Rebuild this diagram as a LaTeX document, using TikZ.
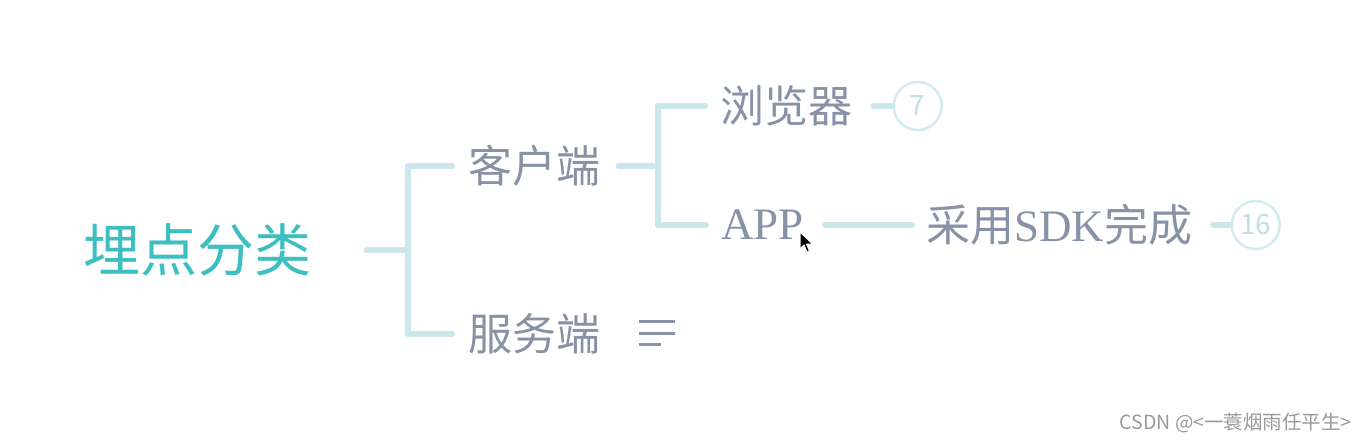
\documentclass[tikz,border=0pt]{standalone}
\usepackage{fontspec}
\newfontfamily\cjkfont{Noto Sans CJK SC}
\newfontfamily\lserif{Liberation Serif}
\definecolor{rootc}{HTML}{3DBFC2}
\definecolor{textc}{HTML}{8892A6}
\definecolor{linec}{HTML}{CBE7EB}
\definecolor{circc}{HTML}{D3EBEF}
\definecolor{numc}{HTML}{C3DFE5}
\definecolor{wmc}{HTML}{9A9A9A}
\newcommand{\latin}[1]{{\lserif\fontsize{45}{48}\selectfont #1}}
\begin{document}
\begin{tikzpicture}[x=1pt,y=-1pt,
  conn/.style={draw=linec, line width=6pt, line cap=round, line join=round},
  rootnode/.style={inner sep=0pt, anchor=west, text=rootc, font=\cjkfont\fontsize{57}{60}\selectfont},
  topic/.style={inner sep=0pt, anchor=west, text=textc, font=\cjkfont\fontsize{44}{48}\selectfont},
  badge/.style={circle, draw=circc, line width=2.5pt, minimum size=48pt, inner sep=0pt, anchor=west, text=numc, font=\cjkfont\fontsize{28}{30}\selectfont},
  iconline/.style={draw=textc, line width=3pt},
]
\useasboundingbox[fill=white] (0,0) rectangle (1368,442);

\node[rootnode] (r) at (83,250) {埋点分类};
\node[topic] (c) at (468,166) {客户端};
\node[topic] (s) at (468,334) {服务端};
\node[topic] (b) at (720,106) {浏览器};
\node[topic] (a) at (721,225) {\latin{APP}};
\node[topic] (k) at (926,225) {采用\latin{SDK}完成};
\node[badge] (n7) at ([xshift=40pt]b.east) {7};
\node[badge] (n16) at ([xshift=38pt]k.east) {16};

\path (r.east) ++(97,0) coordinate (j1);
\path (c.east) ++(58,0) coordinate (j2);

\draw[conn] ([xshift=55pt]r.east) -- (j1);
\draw[conn] ([xshift=-16pt]c.west) -| (j1) |- ([xshift=-16pt]s.west);
\draw[conn] ([xshift=18pt]c.east) -- (j2);
\draw[conn] ([xshift=-15pt]b.west) -| (j2) |- ([xshift=-15pt]a.west);
\draw[conn] ([xshift=21pt]a.east) -- ([xshift=-14pt]k.west);
\draw[conn] ([xshift=21pt]b.east) -- (n7.west);
\draw[conn] ([xshift=21pt]k.east) -- (n16.west);

% notes icon
\draw[iconline] (639,321) -- (675,321);
\draw[iconline] (639,333) -- (675,333);
\draw[iconline] (639,344) -- (661,344);

% mouse cursor
\draw[fill=black, draw=white, line width=1pt, line join=round] (800,232) -- ++(0,17) -- ++(4,-4) -- ++(3,7) -- ++(2.5,-1) -- ++(-3,-7) -- ++(6,0) -- cycle;

\node[anchor=east, inner sep=0pt, text=wmc, font=\cjkfont\fontsize{19.5}{22}\selectfont] (wm) at (1352,423) {CSDN @<一蓑烟雨任平生>};
\end{tikzpicture}
\end{document}
